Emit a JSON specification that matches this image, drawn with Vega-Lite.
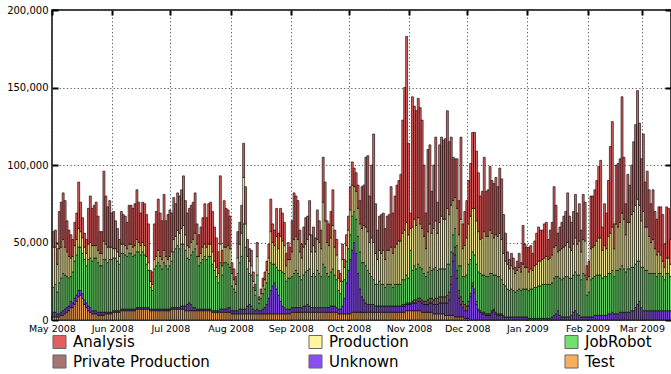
{
"$schema":"https://vega.github.io/schema/vega-lite/v6.json",
"width":619,"height":310,
"autosize":{"type":"none"},
"padding":{"left":52,"top":10,"right":0,"bottom":54},
"background":"white",
"config":{"font":"DejaVu Sans","view":{"stroke":"#000","strokeWidth":1.5}},
"data":{"values":[
{"date":"2008-05-01","Test":2000,"Unknown":3000,"JobRobot":16000,"Production":26000,"Analysis":10000},
{"date":"2008-05-02","Test":2000,"Unknown":3000,"JobRobot":18000,"Production":24000,"Analysis":11000},
{"date":"2008-05-03","Test":2000,"Unknown":2000,"JobRobot":14000,"Production":18000,"Analysis":10000},
{"date":"2008-05-04","Test":2000,"Unknown":2000,"JobRobot":20000,"Production":22000,"Analysis":24000},
{"date":"2008-05-05","Test":3000,"Unknown":2000,"JobRobot":22000,"Production":20000,"Analysis":29000},
{"date":"2008-05-06","Test":3000,"Unknown":3000,"JobRobot":24000,"Production":22000,"Analysis":30000},
{"date":"2008-05-07","Test":4000,"Unknown":3000,"JobRobot":22000,"Production":18000,"Analysis":30000},
{"date":"2008-05-08","Test":5000,"Unknown":3000,"JobRobot":20000,"Production":16000,"Analysis":20000},
{"date":"2008-05-09","Test":6000,"Unknown":3000,"JobRobot":18000,"Production":14000,"Analysis":17000},
{"date":"2008-05-10","Test":8000,"Unknown":4000,"JobRobot":16000,"Production":12000,"Analysis":15000},
{"date":"2008-05-11","Test":8000,"Unknown":3000,"JobRobot":20000,"Production":10000,"Analysis":11000},
{"date":"2008-05-12","Test":10000,"Unknown":4000,"JobRobot":24000,"Production":10000,"Analysis":15000},
{"date":"2008-05-13","Test":12000,"Unknown":4000,"JobRobot":26000,"Production":10000,"Analysis":17000},
{"date":"2008-05-14","Test":15000,"Unknown":4000,"JobRobot":28000,"Production":12000,"Analysis":30000},
{"date":"2008-05-15","Test":16000,"Unknown":3000,"JobRobot":28000,"Production":10000,"Analysis":19000},
{"date":"2008-05-16","Test":14000,"Unknown":3000,"JobRobot":26000,"Production":10000,"Analysis":13000},
{"date":"2008-05-17","Test":10000,"Unknown":3000,"JobRobot":26000,"Production":8000,"Analysis":9000},
{"date":"2008-05-18","Test":8000,"Unknown":3000,"JobRobot":24000,"Production":8000,"Analysis":9000},
{"date":"2008-05-19","Test":6000,"Unknown":3000,"JobRobot":30000,"Production":10000,"Analysis":23000},
{"date":"2008-05-20","Test":5000,"Unknown":3000,"JobRobot":32000,"Production":10000,"Analysis":30000},
{"date":"2008-05-21","Test":4000,"Unknown":2000,"JobRobot":32000,"Production":10000,"Analysis":24000},
{"date":"2008-05-22","Test":4000,"Unknown":2000,"JobRobot":34000,"Production":8000,"Analysis":26000},
{"date":"2008-05-23","Test":4000,"Unknown":2000,"JobRobot":34000,"Production":8000,"Analysis":28000},
{"date":"2008-05-24","Test":3000,"Unknown":2000,"JobRobot":32000,"Production":8000,"Analysis":22000},
{"date":"2008-05-25","Test":3000,"Unknown":2000,"JobRobot":30000,"Production":8000,"Analysis":14000},
{"date":"2008-05-26","Test":3000,"Unknown":2000,"JobRobot":30000,"Production":8000,"Analysis":14000},
{"date":"2008-05-27","Test":3000,"Unknown":2000,"JobRobot":34000,"Production":12000,"Analysis":45000},
{"date":"2008-05-28","Test":4000,"Unknown":1000,"JobRobot":34000,"Production":10000,"Analysis":31000},
{"date":"2008-05-29","Test":4000,"Unknown":1000,"JobRobot":32000,"Production":10000,"Analysis":26000},
{"date":"2008-05-30","Test":4000,"Unknown":1000,"JobRobot":34000,"Production":8000,"Analysis":30000},
{"date":"2008-05-31","Test":4000,"Unknown":1000,"JobRobot":34000,"Production":8000,"Analysis":22000},
{"date":"2008-06-01","Test":5000,"Unknown":1000,"JobRobot":34000,"Production":6000,"Analysis":24000},
{"date":"2008-06-02","Test":5000,"Unknown":1000,"JobRobot":34000,"Production":6000,"Analysis":18000},
{"date":"2008-06-03","Test":5000,"Unknown":1000,"JobRobot":32000,"Production":6000,"Analysis":15000},
{"date":"2008-06-04","Test":5000,"Unknown":1000,"JobRobot":30000,"Production":5000,"Analysis":11000},
{"date":"2008-06-05","Test":6000,"Unknown":1000,"JobRobot":36000,"Production":6000,"Analysis":21000},
{"date":"2008-06-06","Test":6000,"Unknown":1000,"JobRobot":36000,"Production":6000,"Analysis":19000},
{"date":"2008-06-07","Test":6000,"Unknown":1000,"JobRobot":35000,"Production":6000,"Analysis":19000},
{"date":"2008-06-08","Test":6000,"Unknown":1000,"JobRobot":34000,"Production":5000,"Analysis":17000},
{"date":"2008-06-09","Test":6000,"Unknown":1000,"JobRobot":36000,"Production":6000,"Analysis":25000},
{"date":"2008-06-10","Test":6000,"Unknown":1000,"JobRobot":36000,"Production":6000,"Analysis":25000},
{"date":"2008-06-11","Test":6000,"Unknown":1000,"JobRobot":34000,"Production":6000,"Analysis":25000},
{"date":"2008-06-12","Test":6000,"Unknown":1000,"JobRobot":35000,"Production":6000,"Analysis":27000},
{"date":"2008-06-13","Test":7000,"Unknown":1000,"JobRobot":36000,"Production":8000,"Analysis":32000},
{"date":"2008-06-14","Test":7000,"Unknown":1000,"JobRobot":36000,"Production":6000,"Analysis":26000},
{"date":"2008-06-15","Test":7000,"Unknown":1000,"JobRobot":34000,"Production":6000,"Analysis":21000},
{"date":"2008-06-16","Test":7000,"Unknown":1000,"JobRobot":36000,"Production":6000,"Analysis":26000},
{"date":"2008-06-17","Test":7000,"Unknown":1000,"JobRobot":34000,"Production":6000,"Analysis":27000},
{"date":"2008-06-18","Test":7000,"Unknown":1000,"JobRobot":28000,"Production":5000,"Analysis":27000},
{"date":"2008-06-19","Test":7000,"Unknown":1000,"JobRobot":24000,"Production":5000,"Analysis":25000},
{"date":"2008-06-20","Test":6000,"Unknown":1000,"JobRobot":14000,"Production":4000,"Analysis":7000},
{"date":"2008-06-21","Test":6000,"Unknown":1000,"JobRobot":12000,"Production":4000,"Analysis":8000},
{"date":"2008-06-22","Test":6000,"Unknown":1000,"JobRobot":26000,"Production":6000,"Analysis":23000},
{"date":"2008-06-23","Test":6000,"Unknown":1000,"JobRobot":28000,"Production":6000,"Analysis":29000},
{"date":"2008-06-24","Test":6000,"Unknown":1000,"JobRobot":30000,"Production":8000,"Analysis":33000},
{"date":"2008-06-25","Test":6000,"Unknown":1000,"JobRobot":28000,"Production":6000,"Analysis":28000},
{"date":"2008-06-26","Test":6000,"Unknown":1000,"JobRobot":26000,"Production":6000,"Analysis":25000},
{"date":"2008-06-27","Test":6000,"Unknown":1000,"JobRobot":30000,"Production":8000,"Analysis":36000},
{"date":"2008-06-28","Test":6000,"Unknown":1000,"JobRobot":28000,"Production":6000,"Analysis":23000},
{"date":"2008-06-29","Test":6000,"Unknown":1000,"JobRobot":26000,"Production":6000,"Analysis":29000},
{"date":"2008-06-30","Test":6000,"Unknown":1000,"JobRobot":28000,"Production":6000,"Analysis":30000},
{"date":"2008-07-01","Test":7000,"Unknown":1000,"JobRobot":30000,"Production":6000,"Analysis":25000},
{"date":"2008-07-02","Test":7000,"Unknown":1000,"JobRobot":36000,"Production":8000,"Analysis":27000},
{"date":"2008-07-03","Test":7000,"Unknown":1000,"JobRobot":38000,"Production":8000,"Analysis":21000},
{"date":"2008-07-04","Test":7000,"Unknown":1000,"JobRobot":40000,"Production":10000,"Analysis":24000},
{"date":"2008-07-05","Test":7000,"Unknown":1000,"JobRobot":38000,"Production":10000,"Analysis":24000},
{"date":"2008-07-06","Test":7000,"Unknown":2000,"JobRobot":40000,"Production":10000,"Analysis":25000},
{"date":"2008-07-07","Test":7000,"Unknown":2000,"JobRobot":40000,"Production":12000,"Analysis":32000},
{"date":"2008-07-08","Test":6000,"Unknown":3000,"JobRobot":36000,"Production":10000,"Analysis":22000},
{"date":"2008-07-09","Test":6000,"Unknown":4000,"JobRobot":30000,"Production":8000,"Analysis":21000},
{"date":"2008-07-10","Test":6000,"Unknown":5000,"JobRobot":28000,"Production":8000,"Analysis":25000},
{"date":"2008-07-11","Test":6000,"Unknown":4000,"JobRobot":32000,"Production":8000,"Analysis":24000},
{"date":"2008-07-12","Test":6000,"Unknown":2000,"JobRobot":36000,"Production":8000,"Analysis":24000},
{"date":"2008-07-13","Test":6000,"Unknown":2000,"JobRobot":38000,"Production":10000,"Analysis":26000},
{"date":"2008-07-14","Test":6000,"Unknown":1000,"JobRobot":34000,"Production":8000,"Analysis":13000},
{"date":"2008-07-15","Test":6000,"Unknown":1000,"JobRobot":28000,"Production":6000,"Analysis":14000},
{"date":"2008-07-16","Test":6000,"Unknown":1000,"JobRobot":30000,"Production":6000,"Analysis":17000},
{"date":"2008-07-17","Test":6000,"Unknown":1000,"JobRobot":32000,"Production":8000,"Analysis":19000},
{"date":"2008-07-18","Test":6000,"Unknown":1000,"JobRobot":34000,"Production":8000,"Analysis":26000},
{"date":"2008-07-19","Test":6000,"Unknown":1000,"JobRobot":32000,"Production":8000,"Analysis":19000},
{"date":"2008-07-20","Test":6000,"Unknown":1000,"JobRobot":34000,"Production":8000,"Analysis":26000},
{"date":"2008-07-21","Test":6000,"Unknown":1000,"JobRobot":34000,"Production":8000,"Analysis":27000},
{"date":"2008-07-22","Test":5000,"Unknown":1000,"JobRobot":30000,"Production":8000,"Analysis":26000},
{"date":"2008-07-23","Test":5000,"Unknown":1000,"JobRobot":26000,"Production":6000,"Analysis":22000},
{"date":"2008-07-24","Test":5000,"Unknown":1000,"JobRobot":22000,"Production":6000,"Analysis":19000},
{"date":"2008-07-25","Test":5000,"Unknown":1000,"JobRobot":18000,"Production":6000,"Analysis":14000},
{"date":"2008-07-26","Test":5000,"Unknown":2000,"JobRobot":30000,"Production":12000,"Analysis":44000},
{"date":"2008-07-27","Test":5000,"Unknown":2000,"JobRobot":22000,"Production":6000,"Analysis":10000},
{"date":"2008-07-28","Test":5000,"Unknown":2000,"JobRobot":30000,"Production":10000,"Analysis":30000},
{"date":"2008-07-29","Test":5000,"Unknown":2000,"JobRobot":30000,"Production":10000,"Analysis":25000},
{"date":"2008-07-30","Test":5000,"Unknown":3000,"JobRobot":28000,"Production":12000,"Analysis":23000},
{"date":"2008-07-31","Test":5000,"Unknown":3000,"JobRobot":26000,"Production":12000,"Analysis":21000},
{"date":"2008-08-01","Test":4000,"Unknown":2000,"JobRobot":16000,"Production":8000,"Analysis":7000},
{"date":"2008-08-02","Test":4000,"Unknown":2000,"JobRobot":14000,"Production":6000,"Analysis":7000},
{"date":"2008-08-03","Test":4000,"Unknown":2000,"JobRobot":12000,"Production":5000,"Analysis":5000},
{"date":"2008-08-04","Test":4000,"Unknown":2000,"JobRobot":24000,"Production":10000,"Analysis":17000},
{"date":"2008-08-05","Test":4000,"Unknown":3000,"JobRobot":30000,"Production":12000,"Analysis":14000},
{"date":"2008-08-06","Test":4000,"Unknown":3000,"JobRobot":34000,"Production":15000,"Analysis":18000},
{"date":"2008-08-07","Test":4000,"Unknown":3000,"JobRobot":55000,"Production":30000,"Analysis":22000},
{"date":"2008-08-08","Test":4000,"Unknown":3000,"JobRobot":40000,"Production":15000,"Analysis":24000},
{"date":"2008-08-09","Test":4000,"Unknown":5000,"JobRobot":24000,"Production":8000,"Analysis":11000},
{"date":"2008-08-10","Test":4000,"Unknown":6000,"JobRobot":20000,"Production":8000,"Analysis":8000},
{"date":"2008-08-11","Test":4000,"Unknown":5000,"JobRobot":20000,"Production":6000,"Analysis":10000},
{"date":"2008-08-12","Test":4000,"Unknown":3000,"JobRobot":14000,"Production":4000,"Analysis":6000},
{"date":"2008-08-13","Test":4000,"Unknown":2000,"JobRobot":10000,"Production":3000,"Analysis":4000},
{"date":"2008-08-14","Test":4000,"Unknown":3000,"JobRobot":22000,"Production":12000,"Analysis":9000},
{"date":"2008-08-15","Test":4000,"Unknown":2000,"JobRobot":5000,"Production":2000,"Analysis":2000},
{"date":"2008-08-16","Test":4000,"Unknown":2000,"JobRobot":8000,"Production":3000,"Analysis":3000},
{"date":"2008-08-17","Test":4000,"Unknown":3000,"JobRobot":10000,"Production":5000,"Analysis":5000},
{"date":"2008-08-18","Test":4000,"Unknown":4000,"JobRobot":12000,"Production":6000,"Analysis":5000},
{"date":"2008-08-19","Test":4000,"Unknown":6000,"JobRobot":14000,"Production":8000,"Analysis":6000},
{"date":"2008-08-20","Test":4000,"Unknown":10000,"JobRobot":16000,"Production":10000,"Analysis":9000},
{"date":"2008-08-21","Test":4000,"Unknown":15000,"JobRobot":18000,"Production":20000,"Analysis":21000},
{"date":"2008-08-22","Test":4000,"Unknown":18000,"JobRobot":14000,"Production":14000,"Analysis":12000},
{"date":"2008-08-23","Test":4000,"Unknown":20000,"JobRobot":12000,"Production":12000,"Analysis":10000},
{"date":"2008-08-24","Test":4000,"Unknown":16000,"JobRobot":14000,"Production":20000,"Analysis":18000},
{"date":"2008-08-25","Test":4000,"Unknown":12000,"JobRobot":16000,"Production":14000,"Analysis":10000},
{"date":"2008-08-26","Test":4000,"Unknown":8000,"JobRobot":20000,"Production":22000,"Analysis":18000},
{"date":"2008-08-27","Test":4000,"Unknown":5000,"JobRobot":22000,"Production":20000,"Analysis":18000},
{"date":"2008-08-28","Test":4000,"Unknown":4000,"JobRobot":22000,"Production":18000,"Analysis":15000},
{"date":"2008-08-29","Test":4000,"Unknown":3000,"JobRobot":18000,"Production":10000,"Analysis":8000},
{"date":"2008-08-30","Test":4000,"Unknown":3000,"JobRobot":20000,"Production":12000,"Analysis":11000},
{"date":"2008-08-31","Test":4000,"Unknown":3000,"JobRobot":20000,"Production":12000,"Analysis":8000},
{"date":"2008-09-01","Test":5000,"Unknown":3000,"JobRobot":20000,"Production":16000,"Analysis":20000},
{"date":"2008-09-02","Test":5000,"Unknown":3000,"JobRobot":22000,"Production":22000,"Analysis":30000},
{"date":"2008-09-03","Test":5000,"Unknown":3000,"JobRobot":24000,"Production":22000,"Analysis":26000},
{"date":"2008-09-04","Test":5000,"Unknown":3000,"JobRobot":22000,"Production":22000,"Analysis":25000},
{"date":"2008-09-05","Test":5000,"Unknown":3000,"JobRobot":20000,"Production":16000,"Analysis":14000},
{"date":"2008-09-06","Test":5000,"Unknown":3000,"JobRobot":18000,"Production":14000,"Analysis":9000},
{"date":"2008-09-07","Test":5000,"Unknown":4000,"JobRobot":20000,"Production":18000,"Analysis":13000},
{"date":"2008-09-08","Test":5000,"Unknown":4000,"JobRobot":22000,"Production":18000,"Analysis":17000},
{"date":"2008-09-09","Test":5000,"Unknown":5000,"JobRobot":22000,"Production":20000,"Analysis":15000},
{"date":"2008-09-10","Test":5000,"Unknown":4000,"JobRobot":24000,"Production":22000,"Analysis":22000},
{"date":"2008-09-11","Test":5000,"Unknown":3000,"JobRobot":20000,"Production":16000,"Analysis":11000},
{"date":"2008-09-12","Test":5000,"Unknown":3000,"JobRobot":22000,"Production":18000,"Analysis":12000},
{"date":"2008-09-13","Test":5000,"Unknown":3000,"JobRobot":20000,"Production":16000,"Analysis":9000},
{"date":"2008-09-14","Test":5000,"Unknown":3000,"JobRobot":24000,"Production":20000,"Analysis":19000},
{"date":"2008-09-15","Test":5000,"Unknown":3000,"JobRobot":22000,"Production":20000,"Analysis":14000},
{"date":"2008-09-16","Test":5000,"Unknown":3000,"JobRobot":20000,"Production":18000,"Analysis":12000},
{"date":"2008-09-17","Test":5000,"Unknown":3000,"JobRobot":28000,"Production":40000,"Analysis":29000},
{"date":"2008-09-18","Test":5000,"Unknown":3000,"JobRobot":26000,"Production":30000,"Analysis":25000},
{"date":"2008-09-19","Test":5000,"Unknown":3000,"JobRobot":22000,"Production":20000,"Analysis":14000},
{"date":"2008-09-20","Test":5000,"Unknown":3000,"JobRobot":20000,"Production":20000,"Analysis":14000},
{"date":"2008-09-21","Test":5000,"Unknown":4000,"JobRobot":22000,"Production":22000,"Analysis":17000},
{"date":"2008-09-22","Test":5000,"Unknown":4000,"JobRobot":24000,"Production":28000,"Analysis":23000},
{"date":"2008-09-23","Test":5000,"Unknown":4000,"JobRobot":20000,"Production":18000,"Analysis":11000},
{"date":"2008-09-24","Test":5000,"Unknown":3000,"JobRobot":18000,"Production":16000,"Analysis":10000},
{"date":"2008-09-25","Test":4000,"Unknown":3000,"JobRobot":12000,"Production":8000,"Analysis":5000},
{"date":"2008-09-26","Test":4000,"Unknown":3000,"JobRobot":10000,"Production":8000,"Analysis":5000},
{"date":"2008-09-27","Test":4000,"Unknown":5000,"JobRobot":16000,"Production":14000,"Analysis":10000},
{"date":"2008-09-28","Test":4000,"Unknown":10000,"JobRobot":12000,"Production":8000,"Analysis":5000},
{"date":"2008-09-29","Test":4000,"Unknown":20000,"JobRobot":14000,"Production":10000,"Analysis":7000},
{"date":"2008-09-30","Test":4000,"Unknown":28000,"JobRobot":14000,"Production":12000,"Analysis":9000},
{"date":"2008-10-01","Test":4000,"Unknown":35000,"JobRobot":16000,"Production":16000,"Analysis":15000},
{"date":"2008-10-02","Test":5000,"Unknown":40000,"JobRobot":22000,"Production":20000,"Analysis":15000},
{"date":"2008-10-03","Test":5000,"Unknown":45000,"JobRobot":20000,"Production":16000,"Analysis":12000},
{"date":"2008-10-04","Test":5000,"Unknown":38000,"JobRobot":22000,"Production":18000,"Analysis":12000},
{"date":"2008-10-05","Test":5000,"Unknown":25000,"JobRobot":24000,"Production":18000,"Analysis":15000},
{"date":"2008-10-06","Test":5000,"Unknown":15000,"JobRobot":24000,"Production":18000,"Analysis":15000},
{"date":"2008-10-07","Test":5000,"Unknown":10000,"JobRobot":22000,"Production":22000,"Analysis":27000},
{"date":"2008-10-08","Test":5000,"Unknown":8000,"JobRobot":24000,"Production":24000,"Analysis":26000},
{"date":"2008-10-09","Test":5000,"Unknown":6000,"JobRobot":24000,"Production":25000,"Analysis":45000},
{"date":"2008-10-10","Test":5000,"Unknown":5000,"JobRobot":22000,"Production":25000,"Analysis":49000},
{"date":"2008-10-11","Test":5000,"Unknown":5000,"JobRobot":20000,"Production":20000,"Analysis":30000},
{"date":"2008-10-12","Test":5000,"Unknown":5000,"JobRobot":18000,"Production":25000,"Analysis":47000},
{"date":"2008-10-13","Test":5000,"Unknown":5000,"JobRobot":16000,"Production":24000,"Analysis":70000},
{"date":"2008-10-14","Test":5000,"Unknown":4000,"JobRobot":14000,"Production":20000,"Analysis":32000},
{"date":"2008-10-15","Test":5000,"Unknown":4000,"JobRobot":14000,"Production":16000,"Analysis":19000},
{"date":"2008-10-16","Test":5000,"Unknown":4000,"JobRobot":16000,"Production":20000,"Analysis":22000},
{"date":"2008-10-17","Test":5000,"Unknown":4000,"JobRobot":14000,"Production":20000,"Analysis":25000},
{"date":"2008-10-18","Test":5000,"Unknown":4000,"JobRobot":14000,"Production":22000,"Analysis":24000},
{"date":"2008-10-19","Test":5000,"Unknown":4000,"JobRobot":12000,"Production":18000,"Analysis":20000},
{"date":"2008-10-20","Test":5000,"Unknown":4000,"JobRobot":14000,"Production":22000,"Analysis":22000},
{"date":"2008-10-21","Test":5000,"Unknown":4000,"JobRobot":14000,"Production":22000,"Analysis":23000},
{"date":"2008-10-22","Test":5000,"Unknown":4000,"JobRobot":14000,"Production":24000,"Analysis":39000},
{"date":"2008-10-23","Test":5000,"Unknown":4000,"JobRobot":12000,"Production":22000,"Analysis":26000},
{"date":"2008-10-24","Test":5000,"Unknown":4000,"JobRobot":14000,"Production":24000,"Analysis":33000},
{"date":"2008-10-25","Test":5000,"Unknown":4000,"JobRobot":14000,"Production":26000,"Analysis":38000},
{"date":"2008-10-26","Test":5000,"Unknown":4000,"JobRobot":14000,"Production":28000,"Analysis":39000},
{"date":"2008-10-27","Test":5000,"Unknown":4000,"JobRobot":14000,"Production":28000,"Analysis":43000},
{"date":"2008-10-28","Test":5000,"Unknown":4000,"Private Production":1000,"JobRobot":16000,"Production":30000,"Analysis":73000},
{"date":"2008-10-29","Test":5000,"Unknown":4000,"Private Production":1000,"JobRobot":16000,"Production":32000,"Analysis":92000},
{"date":"2008-10-30","Test":6000,"Unknown":4000,"Private Production":1000,"JobRobot":18000,"Production":34000,"Analysis":120000},
{"date":"2008-10-31","Test":6000,"Unknown":4000,"Private Production":1000,"JobRobot":16000,"Production":28000,"Analysis":59000},
{"date":"2008-11-01","Test":6000,"Unknown":4000,"Private Production":1000,"JobRobot":34000,"Production":14000,"Analysis":10000},
{"date":"2008-11-02","Test":6000,"Unknown":5000,"Private Production":1000,"JobRobot":20000,"Production":28000,"Analysis":84000},
{"date":"2008-11-03","Test":6000,"Unknown":5000,"Private Production":2000,"JobRobot":22000,"Production":30000,"Analysis":73000},
{"date":"2008-11-04","Test":6000,"Unknown":5000,"Private Production":2000,"JobRobot":20000,"Production":28000,"Analysis":74000},
{"date":"2008-11-05","Test":6000,"Unknown":6000,"Private Production":2000,"JobRobot":22000,"Production":30000,"Analysis":77000},
{"date":"2008-11-06","Test":6000,"Unknown":6000,"Private Production":2000,"JobRobot":20000,"Production":28000,"Analysis":75000},
{"date":"2008-11-07","Test":5000,"Unknown":6000,"Private Production":2000,"JobRobot":20000,"Production":26000,"Analysis":70000},
{"date":"2008-11-08","Test":5000,"Unknown":5000,"Private Production":2000,"JobRobot":18000,"Production":24000,"Analysis":46000},
{"date":"2008-11-09","Test":5000,"Unknown":5000,"Private Production":2000,"JobRobot":16000,"Production":18000,"Analysis":23000},
{"date":"2008-11-10","Test":5000,"Unknown":5000,"Private Production":3000,"JobRobot":18000,"Production":26000,"Analysis":53000},
{"date":"2008-11-11","Test":5000,"Unknown":6000,"Private Production":3000,"JobRobot":20000,"Production":28000,"Analysis":51000},
{"date":"2008-11-12","Test":5000,"Unknown":6000,"Private Production":3000,"JobRobot":18000,"Production":24000,"Analysis":27000},
{"date":"2008-11-13","Test":4000,"Unknown":6000,"Private Production":3000,"JobRobot":20000,"Production":26000,"Analysis":41000},
{"date":"2008-11-14","Test":4000,"Unknown":6000,"Private Production":4000,"JobRobot":20000,"Production":30000,"Analysis":54000},
{"date":"2008-11-15","Test":4000,"Unknown":6000,"Private Production":4000,"JobRobot":18000,"Production":24000,"Analysis":20000},
{"date":"2008-11-16","Test":4000,"Unknown":7000,"Private Production":4000,"JobRobot":18000,"Production":30000,"Analysis":50000},
{"date":"2008-11-17","Test":4000,"Unknown":7000,"Private Production":4000,"JobRobot":18000,"Production":34000,"Analysis":51000},
{"date":"2008-11-18","Test":4000,"Unknown":7000,"Private Production":4000,"JobRobot":18000,"Production":32000,"Analysis":51000},
{"date":"2008-11-19","Test":3000,"Unknown":8000,"Private Production":4000,"JobRobot":18000,"Production":32000,"Analysis":52000},
{"date":"2008-11-20","Test":3000,"Unknown":8000,"Private Production":5000,"JobRobot":20000,"Production":36000,"Analysis":63000},
{"date":"2008-11-21","Test":3000,"Unknown":10000,"Private Production":5000,"JobRobot":18000,"Production":32000,"Analysis":47000},
{"date":"2008-11-22","Test":3000,"Unknown":20000,"Private Production":5000,"JobRobot":16000,"Production":30000,"Analysis":44000},
{"date":"2008-11-23","Test":3000,"Unknown":35000,"Private Production":5000,"JobRobot":12000,"Production":22000,"Analysis":28000},
{"date":"2008-11-24","Test":2000,"Unknown":40000,"Private Production":5000,"JobRobot":12000,"Production":20000,"Analysis":25000},
{"date":"2008-11-25","Test":2000,"Unknown":25000,"Private Production":5000,"JobRobot":16000,"Production":24000,"Analysis":32000},
{"date":"2008-11-26","Test":2000,"Unknown":12000,"Private Production":5000,"JobRobot":16000,"Production":20000,"Analysis":22000},
{"date":"2008-11-27","Test":2000,"Unknown":8000,"Private Production":5000,"JobRobot":20000,"Production":30000,"Analysis":53000},
{"date":"2008-11-28","Test":2000,"Unknown":6000,"Private Production":4000,"JobRobot":16000,"Production":18000,"Analysis":16000},
{"date":"2008-11-29","Test":1000,"Unknown":5000,"Private Production":4000,"JobRobot":18000,"Production":20000,"Analysis":22000},
{"date":"2008-11-30","Test":1000,"Unknown":5000,"Private Production":3000,"JobRobot":20000,"Production":24000,"Analysis":24000},
{"date":"2008-12-01","Test":1000,"Unknown":8000,"Private Production":3000,"JobRobot":24000,"Production":26000,"Analysis":28000},
{"date":"2008-12-02","Unknown":15000,"Private Production":2000,"JobRobot":22000,"Production":28000,"Analysis":34000},
{"date":"2008-12-03","Unknown":22000,"Private Production":2000,"JobRobot":20000,"Production":28000,"Analysis":49000},
{"date":"2008-12-04","Unknown":18000,"Private Production":2000,"JobRobot":22000,"Production":30000,"Analysis":49000},
{"date":"2008-12-05","Unknown":10000,"Private Production":2000,"JobRobot":24000,"Production":28000,"Analysis":45000},
{"date":"2008-12-06","Unknown":6000,"Private Production":1000,"JobRobot":24000,"Production":26000,"Analysis":38000},
{"date":"2008-12-07","Unknown":5000,"Private Production":1000,"JobRobot":24000,"Production":22000,"Analysis":28000},
{"date":"2008-12-08","Unknown":4000,"Private Production":1000,"JobRobot":24000,"Production":24000,"Analysis":30000},
{"date":"2008-12-09","Unknown":4000,"Private Production":1000,"JobRobot":24000,"Production":28000,"Analysis":48000},
{"date":"2008-12-10","Unknown":3000,"Private Production":1000,"JobRobot":24000,"Production":26000,"Analysis":29000},
{"date":"2008-12-11","Unknown":3000,"Private Production":1000,"JobRobot":24000,"Production":26000,"Analysis":30000},
{"date":"2008-12-12","Unknown":3000,"Private Production":1000,"JobRobot":26000,"Production":28000,"Analysis":41000},
{"date":"2008-12-13","Unknown":5000,"Private Production":1000,"JobRobot":24000,"Production":26000,"Analysis":34000},
{"date":"2008-12-14","Unknown":6000,"Private Production":1000,"JobRobot":22000,"Production":24000,"Analysis":35000},
{"date":"2008-12-15","Unknown":4000,"Private Production":1000,"JobRobot":24000,"Production":26000,"Analysis":37000},
{"date":"2008-12-16","Unknown":3000,"Private Production":1000,"JobRobot":24000,"Production":26000,"Analysis":32000},
{"date":"2008-12-17","Unknown":3000,"Private Production":1000,"JobRobot":24000,"Production":28000,"Analysis":42000},
{"date":"2008-12-18","Unknown":3000,"Private Production":1000,"JobRobot":22000,"Production":26000,"Analysis":39000},
{"date":"2008-12-19","Unknown":2000,"Private Production":1000,"JobRobot":20000,"Production":20000,"Analysis":25000},
{"date":"2008-12-20","Unknown":2000,"JobRobot":20000,"Production":16000,"Analysis":18000},
{"date":"2008-12-21","Unknown":2000,"JobRobot":18000,"Production":16000,"Analysis":8000},
{"date":"2008-12-22","Unknown":2000,"JobRobot":17000,"Production":14000,"Analysis":6000},
{"date":"2008-12-23","Unknown":2000,"JobRobot":18000,"Production":15000,"Analysis":8000},
{"date":"2008-12-24","Unknown":2000,"JobRobot":17000,"Production":14000,"Analysis":7000},
{"date":"2008-12-25","Unknown":2000,"JobRobot":16000,"Production":12000,"Analysis":4000},
{"date":"2008-12-26","Unknown":2000,"JobRobot":17000,"Production":13000,"Analysis":6000},
{"date":"2008-12-27","Unknown":2000,"JobRobot":18000,"Production":14000,"Analysis":9000},
{"date":"2008-12-28","Unknown":2000,"JobRobot":17000,"Production":12000,"Analysis":6000},
{"date":"2008-12-29","Unknown":2000,"JobRobot":18000,"Production":16000,"Analysis":25000},
{"date":"2008-12-30","Unknown":2000,"JobRobot":18000,"Production":14000,"Analysis":15000},
{"date":"2008-12-31","Unknown":2000,"JobRobot":18000,"Production":14000,"Analysis":13000},
{"date":"2009-01-01","Unknown":1000,"JobRobot":18000,"Production":12000,"Analysis":16000},
{"date":"2009-01-02","Unknown":1000,"JobRobot":19000,"Production":13000,"Analysis":15000},
{"date":"2009-01-03","Unknown":1000,"JobRobot":19000,"Production":12000,"Analysis":11000},
{"date":"2009-01-04","Unknown":1000,"JobRobot":20000,"Production":14000,"Analysis":16000},
{"date":"2009-01-05","Unknown":1000,"JobRobot":20000,"Production":15000,"Analysis":20000},
{"date":"2009-01-06","Unknown":1000,"JobRobot":21000,"Production":16000,"Analysis":22000},
{"date":"2009-01-07","Unknown":1000,"JobRobot":21000,"Production":16000,"Analysis":20000},
{"date":"2009-01-08","Unknown":1000,"JobRobot":22000,"Production":16000,"Analysis":19000},
{"date":"2009-01-09","Unknown":1000,"JobRobot":22000,"Production":17000,"Analysis":22000},
{"date":"2009-01-10","Unknown":1000,"JobRobot":22000,"Production":18000,"Analysis":22000},
{"date":"2009-01-11","Unknown":1000,"JobRobot":22000,"Production":16000,"Analysis":13000},
{"date":"2009-01-12","Unknown":1000,"JobRobot":22000,"Production":17000,"Analysis":18000},
{"date":"2009-01-13","Unknown":2000,"JobRobot":22000,"Production":18000,"Analysis":21000},
{"date":"2009-01-14","Unknown":3000,"JobRobot":24000,"Production":20000,"Analysis":39000},
{"date":"2009-01-15","Unknown":4000,"JobRobot":24000,"Production":20000,"Analysis":26000},
{"date":"2009-01-16","Unknown":6000,"JobRobot":22000,"Production":16000,"Analysis":12000},
{"date":"2009-01-17","Unknown":3000,"JobRobot":24000,"Production":18000,"Analysis":15000},
{"date":"2009-01-18","Unknown":2000,"JobRobot":24000,"Production":20000,"Analysis":17000},
{"date":"2009-01-19","Unknown":2000,"JobRobot":25000,"Production":20000,"Analysis":20000},
{"date":"2009-01-20","Unknown":2000,"JobRobot":26000,"Production":20000,"Analysis":22000},
{"date":"2009-01-21","Unknown":2000,"JobRobot":26000,"Production":22000,"Analysis":32000},
{"date":"2009-01-22","Unknown":2000,"JobRobot":25000,"Production":20000,"Analysis":20000},
{"date":"2009-01-23","Unknown":3000,"JobRobot":24000,"Production":18000,"Analysis":18000},
{"date":"2009-01-24","Unknown":5000,"JobRobot":24000,"Production":20000,"Analysis":21000},
{"date":"2009-01-25","Unknown":6000,"JobRobot":25000,"Production":22000,"Analysis":28000},
{"date":"2009-01-26","Unknown":4000,"JobRobot":25000,"Production":20000,"Analysis":20000},
{"date":"2009-01-27","Unknown":3000,"JobRobot":26000,"Production":22000,"Analysis":24000},
{"date":"2009-01-28","Unknown":2000,"JobRobot":24000,"Production":18000,"Analysis":14000},
{"date":"2009-01-29","Unknown":2000,"JobRobot":28000,"Production":22000,"Analysis":29000},
{"date":"2009-01-30","Unknown":2000,"JobRobot":27000,"Production":22000,"Analysis":25000},
{"date":"2009-01-31","Unknown":2000,"JobRobot":14000,"Production":10000,"Analysis":9000},
{"date":"2009-02-01","Unknown":2000,"JobRobot":16000,"Production":10000,"Analysis":10000},
{"date":"2009-02-02","Unknown":2000,"JobRobot":24000,"Production":20000,"Analysis":34000},
{"date":"2009-02-03","Unknown":2000,"JobRobot":25000,"Production":20000,"Analysis":33000},
{"date":"2009-02-04","Unknown":3000,"JobRobot":25000,"Production":20000,"Analysis":36000},
{"date":"2009-02-05","Unknown":3000,"JobRobot":26000,"Production":22000,"Analysis":39000},
{"date":"2009-02-06","Unknown":3000,"JobRobot":26000,"Production":24000,"Analysis":46000},
{"date":"2009-02-07","Unknown":3000,"JobRobot":26000,"Production":24000,"Analysis":50000},
{"date":"2009-02-08","Unknown":3000,"JobRobot":24000,"Production":18000,"Analysis":15000},
{"date":"2009-02-09","Unknown":3000,"JobRobot":25000,"Production":20000,"Analysis":27000},
{"date":"2009-02-10","Unknown":3000,"JobRobot":25000,"Production":18000,"Analysis":23000},
{"date":"2009-02-11","Unknown":4000,"JobRobot":26000,"Production":24000,"Analysis":36000},
{"date":"2009-02-12","Unknown":4000,"JobRobot":26000,"Production":26000,"Analysis":56000},
{"date":"2009-02-13","Unknown":5000,"JobRobot":27000,"Production":28000,"Analysis":68000},
{"date":"2009-02-14","Unknown":4000,"JobRobot":24000,"Production":18000,"Analysis":16000},
{"date":"2009-02-15","Unknown":4000,"JobRobot":28000,"Production":30000,"Analysis":38000},
{"date":"2009-02-16","Unknown":4000,"JobRobot":28000,"Production":28000,"Analysis":41000},
{"date":"2009-02-17","Unknown":5000,"JobRobot":28000,"Production":30000,"Analysis":41000},
{"date":"2009-02-18","Unknown":5000,"JobRobot":30000,"Production":34000,"Analysis":75000},
{"date":"2009-02-19","Unknown":5000,"JobRobot":28000,"Production":32000,"Analysis":40000},
{"date":"2009-02-20","Unknown":5000,"JobRobot":26000,"Production":24000,"Analysis":20000},
{"date":"2009-02-21","Unknown":5000,"JobRobot":28000,"Production":30000,"Analysis":31000},
{"date":"2009-02-22","Unknown":5000,"JobRobot":28000,"Production":30000,"Analysis":24000},
{"date":"2009-02-23","Unknown":6000,"JobRobot":28000,"Production":34000,"Analysis":32000},
{"date":"2009-02-24","Unknown":6000,"JobRobot":28000,"Production":36000,"Analysis":45000},
{"date":"2009-02-25","Unknown":8000,"JobRobot":28000,"Production":38000,"Analysis":52000},
{"date":"2009-02-26","Unknown":10000,"JobRobot":28000,"Production":40000,"Analysis":70000},
{"date":"2009-02-27","Unknown":12000,"JobRobot":26000,"Production":36000,"Analysis":53000},
{"date":"2009-02-28","Unknown":8000,"JobRobot":26000,"Production":30000,"Analysis":40000},
{"date":"2009-03-01","Unknown":6000,"JobRobot":28000,"Production":36000,"Analysis":50000},
{"date":"2009-03-02","Unknown":6000,"JobRobot":26000,"Production":28000,"Analysis":29000},
{"date":"2009-03-03","Unknown":6000,"JobRobot":26000,"Production":28000,"Analysis":36000},
{"date":"2009-03-04","Unknown":6000,"JobRobot":24000,"Production":24000,"Analysis":30000},
{"date":"2009-03-05","Unknown":6000,"JobRobot":24000,"Production":20000,"Analysis":25000},
{"date":"2009-03-06","Unknown":6000,"JobRobot":24000,"Production":22000,"Analysis":32000},
{"date":"2009-03-07","Unknown":6000,"JobRobot":24000,"Production":16000,"Analysis":24000},
{"date":"2009-03-08","Unknown":6000,"JobRobot":22000,"Production":14000,"Analysis":23000},
{"date":"2009-03-09","Unknown":6000,"JobRobot":24000,"Production":14000,"Analysis":29000},
{"date":"2009-03-10","Unknown":6000,"JobRobot":24000,"Production":12000,"Analysis":31000},
{"date":"2009-03-11","Unknown":6000,"JobRobot":22000,"Production":10000,"Analysis":30000},
{"date":"2009-03-12","Unknown":6000,"JobRobot":20000,"Production":8000,"Analysis":15000},
{"date":"2009-03-13","Unknown":6000,"JobRobot":24000,"Production":10000,"Analysis":33000},
{"date":"2009-03-14","Unknown":6000,"JobRobot":24000,"Production":10000,"Analysis":32000},
{"date":"2009-03-15","Unknown":6000,"JobRobot":22000,"Production":8000,"Analysis":16000}
],"format":{"parse":{"date":"date:'%Y-%m-%d'"}}},
"transform":[
{"fold":["Test","Unknown","Private Production","JobRobot","Production","Analysis"],"as":["activity","jobs"]},
{"filter":"isValid(datum.jobs)"},
{"calculate":"indexof(['Test','Unknown','Private Production','JobRobot','Production','Analysis'], datum.activity)","as":"stackorder"}
],
"layer":[
{"mark":{"type":"bar","binSpacing":0,"stroke":"#000","strokeWidth":0.7,"strokeOpacity":0.9},
"encoding":{
"x":{"field":"date","timeUnit":"yearmonthdate","type":"temporal","title":null,
"scale":{"domain":[{"year":2008,"month":5,"date":1},{"year":2009,"month":3,"date":16}]},
"axis":{"format":"%b %Y","tickCount":{"interval":"month","step":1},"labelFontSize":9.5,"labelColor":"#000","labelAlign":"center","labelFlush":false,"labelOverlap":false,"labelPadding":8,"grid":true,"gridDash":[1.2,2.4],"gridColor":"#555","gridWidth":1,"domain":false,"tickSize":-5,"tickWidth":2,"tickColor":"#000"}},
"y":{"field":"jobs","type":"quantitative","stack":"zero","title":null,
"scale":{"domain":[0,200000],"nice":false},
"axis":{"values":[0,50000,100000,150000,200000],"labelExpr":"format(datum.value, ',')","labelFontSize":10,"labelColor":"#000","labelPadding":10,"grid":true,"gridDash":[1.2,2.4],"gridColor":"#555","gridWidth":1,"domain":false,"tickSize":-6,"tickWidth":2,"tickColor":"#000"}},
"color":{"field":"activity","type":"nominal",
"scale":{"domain":["Analysis","Private Production","Production","Unknown","JobRobot","Test"],"range":["#e35f5f","#a37674","#fff59e","#8a4ff2","#70e070","#f9ad5f"]},
"legend":{"orient":"none","legendX":0,"legendY":324,"columns":3,"gridAlign":"all","columnPadding":96,"rowPadding":1,"title":null,"symbolType":"square","symbolSize":170,"symbolStrokeColor":"#666","symbolStrokeWidth":1,"symbolOpacity":1,"labelFontSize":15,"labelFont":"DejaVu Sans","labelColor":"#000","labelLimit":0,"labelOffset":6,"padding":0}},
"order":{"field":"stackorder","type":"quantitative","sort":"ascending"}}},
{"transform":[{"filter":"datum.activity == 'Test'"}],
"mark":{"type":"point","opacity":0},
"encoding":{
"x":{"field":"date","timeUnit":"yearmonthdate","type":"temporal","title":null,
"axis":{"orient":"top","labels":false,"tickCount":{"interval":"month","step":1},"grid":false,"domain":false,"tickSize":-5,"tickWidth":2,"tickColor":"#000"}},
"y":{"field":"jobs","type":"quantitative","title":null,
"axis":{"orient":"right","labels":false,"values":[0,50000,100000,150000,200000],"grid":false,"domain":false,"tickSize":-6,"tickWidth":2,"tickColor":"#000"}}}}
],
"resolve":{"axis":{"x":"independent","y":"independent"}}
}
